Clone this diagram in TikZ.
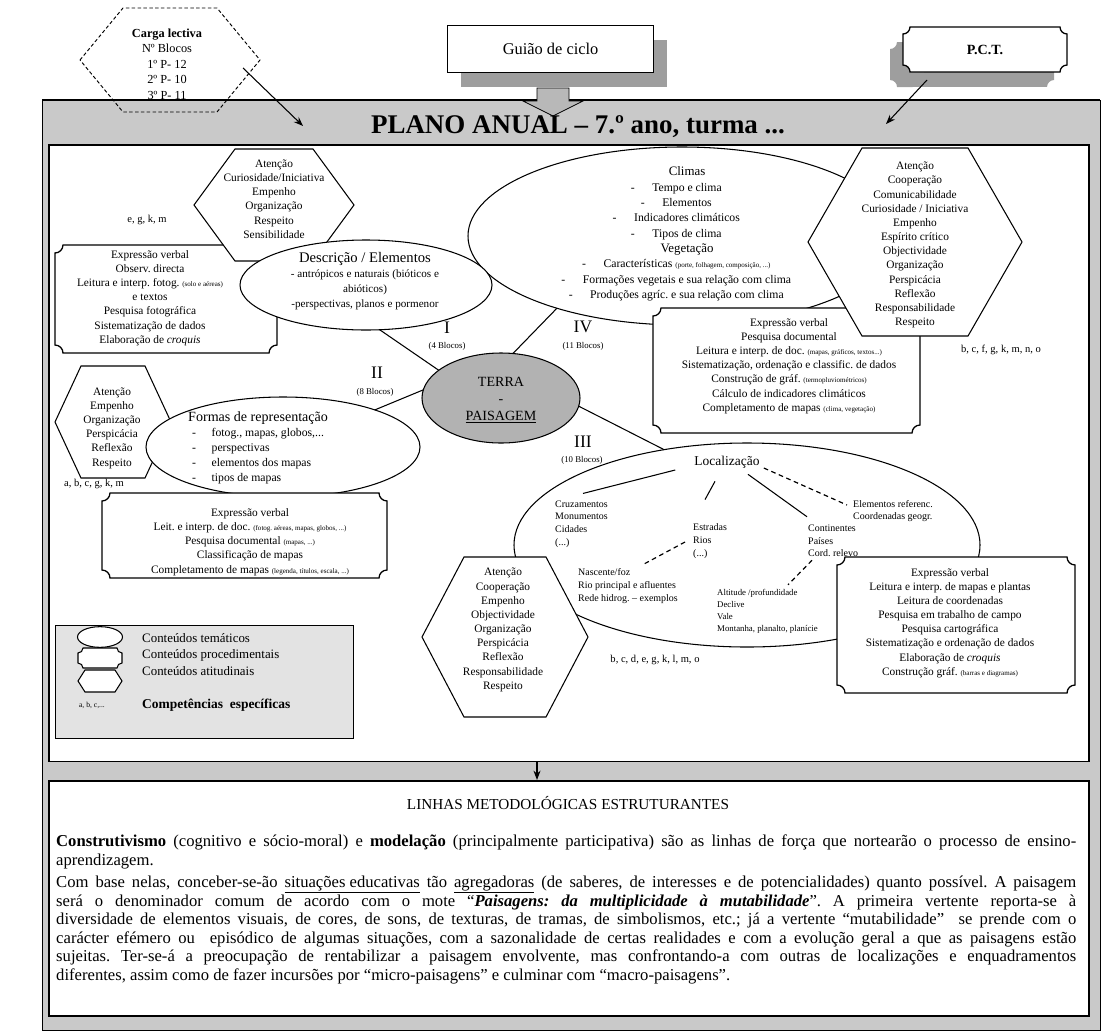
\documentclass[tikz,border=0pt]{standalone}
\usepackage{fontspec}
\setmainfont{Liberation Serif}
\usetikzlibrary{calc,shapes.geometric,arrows.meta}
\definecolor{framegray}{gray}{0.79}
\definecolor{terragray}{gray}{0.70}
\definecolor{legendgray}{gray}{0.89}
\definecolor{shadowgray}{gray}{0.62}
\definecolor{arrowgray}{gray}{0.72}
\newcommand\fsz[2]{\fontsize{#1}{#2}\selectfont}
% centred list item with a hanging dash
\newcommand\cdash{\llap{-\hspace{15pt}}}
% left aligned list item with a dash
\newcommand\ditem{\makebox[20pt][l]{\hspace*{3.4pt}-}}
\newcommand\smallnote[1]{{\fsz{6}{7}#1}}
% six-sided outline: centre x, centre y, half width, half height, inset of top/bottom corners
\newcommand\hexshape[6][]{\draw[hexline,#1] (#2-#4,#3) -- (#2-#4+#6,#3-#5) -- (#2+#4-#6,#3-#5) -- (#2+#4,#3) -- (#2+#4-#6,#3+#5) -- (#2-#4+#6,#3+#5) -- cycle;}
% box with concave corners: left, top, right, bottom, corner radius
\newcommand\plaque[6][]{\draw[plaqueline,#1] (#2+#6,#3) -- (#4-#6,#3)
  arc[start angle=180,end angle=270,radius={#6*0.8504pt}] -- (#4,#5-#6)
  arc[start angle=90,end angle=180,radius={#6*0.8504pt}] -- (#2+#6,#5)
  arc[start angle=0,end angle=90,radius={#6*0.8504pt}] -- (#2,#3+#6)
  arc[start angle=270,end angle=360,radius={#6*0.8504pt}] -- cycle;}
\begin{document}
\frenchspacing
\begin{tikzpicture}[x=0.03cm,y=-0.03cm,
  hexline/.style={draw=black,line width=0.9pt,fill=white},
  plaqueline/.style={draw=black,line width=1.1pt,fill=white},
  oval/.style={ellipse,draw=black,line width=0.9pt,fill=white,inner sep=0pt,outer sep=0pt},
  txt/.style={inner sep=0pt,align=center,font=\fsz{9.7}{12.1}},
  ltxt/.style={inner sep=0pt,align=left,anchor=west,font=\fsz{8.5}{10.8}},
  link/.style={draw=black,line width=0.9pt},
  dlink/.style={draw=black,line width=1pt,dash pattern=on 4pt off 3pt},
  arr/.style={draw=black,line width=0.9pt,-{Stealth[length=8pt,width=6pt]}},
  roman/.style={inner sep=0pt,font=\fsz{15}{16}},
  blocos/.style={inner sep=0pt,font=\fsz{7.5}{9}},
  comp/.style={inner sep=0pt,font=\fsz{9}{10}},
  lgd/.style={inner sep=0pt,anchor=west,font=\fsz{11}{12}}
]
\useasboundingbox (0,0) rectangle (1104,1034);

% grey frame
\fill[framegray] (42,100) rectangle (1100,1030);
\draw[line width=0.5pt] (42,100) rectangle (1100,1030);
\draw[line width=1.2pt] (42,100) -- (1100,100);

% top row
\hexshape[fill=none,line width=0.8pt,dash pattern=on 3pt off 2pt]{170}{60}{90}{52}{43}
\node[inner sep=0pt,align=center,font=\fsz{10.5}{13.2}] (carga) at (167,64)
  {\textbf{Carga lectiva}\\Nº Blocos\\1º P- 12\\2º P- 10\\3º P- 11};

\fill[shadowgray] (461,40) rectangle (667,87);
\node[draw=black,line width=1pt,fill=white,anchor=north west,minimum width=6.18cm,
  minimum height=1.41cm,inner sep=0pt,font=\fsz{14}{16}] (guiao) at (447,25) {Guião de ciclo};
\filldraw[fill=arrowgray,draw=black,line width=0.7pt]
  (537,88) -- (569,88) -- (569,101) -- (583,101) -- (553,116) -- (523,101) -- (537,101) -- cycle;

\plaque[fill=shadowgray,draw=none]{890}{42}{1054}{87}{7}
\plaque{903}{27}{1067}{72}{7}
\node[inner sep=0pt,font=\bfseries\fsz{12}{14}] (pct) at (985,50) {P.C.T.};

\coordinate (cargaTail) at (243,68);
\coordinate (cargaHead) at (303,126);
\draw[arr] (cargaTail) -- (cargaHead);
\coordinate (pctTail) at (927,80);
\coordinate (pctHead) at (886,124);
\draw[arr] (pctTail) -- (pctHead);

% annual plan
\node[draw=black,line width=1.4pt,fill=white,anchor=north west,minimum width=31.2cm,
  minimum height=18.5cm,inner sep=0pt] (plan) at (48,144) {};
\node[inner sep=0pt,font=\bfseries\fsz{23}{26}] (title) at (578,127) {PLANO ANUAL – 7.º ano, turma ...};

\node[oval,minimum width=12.84cm,minimum height=5.34cm] (climas) at (682,236) {};
\plaque{55}{245}{277}{353}{8}
\hexshape{274}{205}{80}{56}{41}
\node[oval,minimum width=7.56cm,minimum height=2.7cm] (desc) at (366,285) {};
\plaque{653}{308}{920}{433}{8}
\hexshape{915}{242}{107}{94}{54}
\hexshape{113}{422}{58}{56}{26}
\node[oval,minimum width=8.22cm,minimum height=3cm] (formas) at (283,447) {};
\plaque{102}{493}{387}{578}{8}
\node[oval,minimum width=13.98cm,minimum height=6.12cm] (loc) at (747,545) {};
\hexshape{505}{637}{83}{80}{42}
\plaque{837}{557}{1075}{693}{8}
\node[oval,fill=terragray,minimum width=4.74cm,minimum height=2.7cm] (terra) at (501,398) {};

\draw[link] (desc.-73) -- (terra.156);
\draw[link] (terra.75) -- (climas.210);
\draw[link] (terra.174) -- (formas.22);
\draw[link] (terra.-6) -- (loc.131);

% texts of the plan
\node[txt] (hexAT) at (274,199) {Atenção\\Curiosidade/Iniciativa\\Empenho\\Organização\\Respeito\\Sensibilidade};
\node[comp] (compA) at (147,220) {e, g, k, m};
\node[txt] (exprA) at (150,298) {Expressão verbal\\Observ. directa\\Leitura e interp. fotog. \smallnote{(solo e aéreas)}\\e textos\\Pesquisa fotográfica\\Sistematização de dados\\Elaboração de \textit{croquis}};
\node[txt,font=\fsz{9.5}{12.8}] (descT) at (365,281) {{\fsz{12.5}{13}Descrição / Elementos}\\- antrópicos e naturais (bióticos e\\abióticos)\\-perspectivas, planos e pormenor};
\node[txt,font=\fsz{10}{13.1}] (climasT) at (687,234) {{\fsz{11}{12}Climas}\\\cdash Tempo e clima\\\cdash Elementos\\\cdash Indicadores climáticos\\\cdash Tipos de clima\\{\fsz{11}{12}Vegetação}\\\cdash Características \smallnote{(porte, folhagem, composição, ...)}\\\cdash Formações vegetais e sua relação com clima\\\cdash Produções agríc. e sua relação com clima};
\node[txt] (hexBT) at (915,245) {Atenção\\Cooperação\\Comunicabilidade\\Curiosidade / Iniciativa\\Empenho\\Espírito crítico\\Objectividade\\Organização\\Perspicácia\\Reflexão\\Responsabilidade\\Respeito};
\node[comp] (compB) at (1001,350) {b, c, f, g, k, m, n, o};
\node[txt] (exprB) at (789,366) {Expressão verbal\\Pesquisa documental\\Leitura e interp. de doc. \smallnote{(mapas, gráficos, textos...)}\\Sistematização, ordenação e classific. de dados\\Construção de gráf. \smallnote{(termopluviométricos)}\\Cálculo de indicadores climáticos\\Completamento de mapas \smallnote{(clima, vegetação)}};
\node[inner sep=0pt,align=center,font=\fsz{12}{14.5}] (terraT) at (501,400) {TERRA\\-\\\underline{PAISAGEM}};

\node[roman] (rI) at (447,328) {I};
\node[blocos] (bI) at (447,346) {(4 Blocos)};
\node[roman] (rIV) at (583,327) {IV};
\node[blocos] (bIV) at (583,346) {(11 Blocos)};
\node[roman] (rII) at (377,373) {II};
\node[blocos] (bII) at (375,392) {(8 Blocos)};
\node[roman] (rIII) at (583,442) {III};
\node[blocos] (bIII) at (582,460) {(10 Blocos)};

\node[txt] (hexCT) at (112,428) {Atenção\\Empenho\\Organização\\Perspicácia\\Reflexão\\Respeito};
\node[comp] (compC) at (94,484) {a, b, c, g, k, m};
\node[inner sep=0pt,align=left,anchor=west,font=\fsz{10}{12.8}] (formasT) at (188,448) {{\fsz{12}{13}Formas de representação}\\\ditem fotog., mapas, globos,...\\\ditem perspectivas\\\ditem elementos dos mapas\\\ditem tipos de mapas};
\node[txt] (exprC) at (250,542) {Expressão verbal\\Leit. e interp. de doc. \smallnote{(fotog. aéreas, mapas, globos, ...)}\\Pesquisa documental \smallnote{(mapas, ...)}\\Classificação de mapas\\Completamento de mapas \smallnote{(legenda, títulos, escala, ...)}};

\node[inner sep=0pt,font=\fsz{11.5}{13}] (locT) at (727,462) {Localização};
\node[ltxt] (pontos) at (555,524) {Cruzamentos\\Monumentos\\Cidades\\(...)};
\node[ltxt] (linhasL) at (693,541) {Estradas\\Rios\\(...)};
\node[ltxt] (areas) at (808,541) {Continentes\\Países\\Cord. relevo};
\node[ltxt] (refs) at (853,511) {Elementos referenc.\\Coordenadas geogr.};
\node[ltxt] (hidro) at (578,586) {Nascente/foz\\Rio principal e afluentes\\Rede hidrog. – exemplos};
\node[ltxt,font=\fsz{7.5}{10.2}] (relevo) at (717,611) {Altitude /profundidade\\Declive\\Vale\\Montanha, planalto, planície};
\draw[link] ($(locT.west)+(-19,8)$) -- ($(pontos.north west)+(28,-7)$);
\draw[link] ($(locT.south)+(-12,13)$) -- ($(linhasL.north west)+(12,-24)$);
\draw[link] ($(locT.south)+(21,6)$) -- ($(areas.north west)+(-1,-8)$);
\draw[dlink] ($(locT.east)+(4,6)$) -- ($(refs.west)+(-6,-6)$);
\draw[dlink] ($(linhasL.west)+(-8,1)$) -- ($(hidro.north west)+(65,-4)$);
\draw[dlink] ($(areas.south west)+(4,3)$) -- ($(relevo.north west)+(71,-4)$);

\node[txt] (hexDT) at (503,630) {Atenção\\Cooperação\\Empenho\\Objectividade\\Organização\\Perspicácia\\Reflexão\\Responsabilidade\\Respeito};
\node[comp] (compD) at (655,660) {b, c, d, e, g, k, l, m, o};
\node[txt] (exprD) at (950,623) {Expressão verbal\\Leitura e interp. de mapas e plantas\\Leitura de coordenadas\\Pesquisa em trabalho de campo\\Pesquisa cartográfica\\Sistematização e ordenação de dados\\Elaboração de \textit{croquis}\\Construção gráf. \smallnote{(barras e diagramas)}};

% legend
\node[draw=black,line width=0.6pt,fill=legendgray,anchor=north west,minimum width=8.94cm,
  minimum height=3.39cm,inner sep=0pt] (legend) at (55,625) {};
\node[oval,minimum width=1.35cm,minimum height=0.62cm] (legOval) at (100,637) {};
\plaque[line width=0.9pt]{78}{648}{122}{668}{5}
\hexshape{100}{681}{22}{11}{7}
\node[lgd] (lg1) at (142,638) {Conteúdos temáticos};
\node[lgd] (lg2) at (142,655) {Conteúdos procedimentais};
\node[lgd] (lg3) at (142,671) {Conteúdos atitudinais};
\node[inner sep=0pt,font=\fsz{6.5}{8}] (lg4) at (92,705) {a, b, c,...};
\node[lgd,font=\bfseries\fsz{11.5}{13}] (lg5) at (142,705) {Competências\ \ específicas};

% methodological lines
\node[draw=black,line width=1.6pt,fill=white,anchor=north west,minimum width=31.2cm,
  minimum height=7.05cm,inner sep=0pt] (linhas) at (48,780) {};
\coordinate (dropx) at (537,0);
\draw[arr] (plan.south -| dropx) -- (linhas.north -| dropx);
\node[inner sep=0pt,font=\fsz{13}{15}] (linhasT) at (568,803) {LINHAS METODOLÓGICAS ESTRUTURANTES};
\node[anchor=north west,inner sep=0pt,text width=30.6cm,align=justify,font=\fsz{14.2}{15.8}] (linhasP) at (56,835) {\parindent=0pt\frenchspacing
\textbf{Construtivismo} (cognitivo e sócio-moral) e \textbf{modelação} (principalmente participativa) são as linhas de força que nortearão o processo de ensino-\linebreak aprendizagem.\par\vspace{3pt}
Com base nelas, conceber-se-ão \underline{situações educativas} tão \underline{agregadoras} (de saberes, de interesses e de potencialidades) quanto possível. A paisagem\linebreak será o denominador comum de acordo com o mote “\textbf{\textit{Paisagens: da multiplicidade à mutabilidade}}”. A primeira vertente reporta-se à\linebreak diversidade de elementos visuais, de cores, de sons, de texturas, de tramas, de simbolismos, etc.; já a vertente “mutabilidade”\ \ se prende com o\linebreak carácter efémero ou\ \ episódico de algumas situações, com a sazonalidade de certas realidades e com a evolução geral a que as paisagens estão\linebreak sujeitas. Ter-se-á a preocupação de rentabilizar a paisagem envolvente, mas confrontando-a com outras de localizações e enquadramentos\linebreak diferentes, assim como de fazer incursões por “micro-paisagens” e culminar com “macro-paisagens”.};
\end{tikzpicture}
\end{document}
